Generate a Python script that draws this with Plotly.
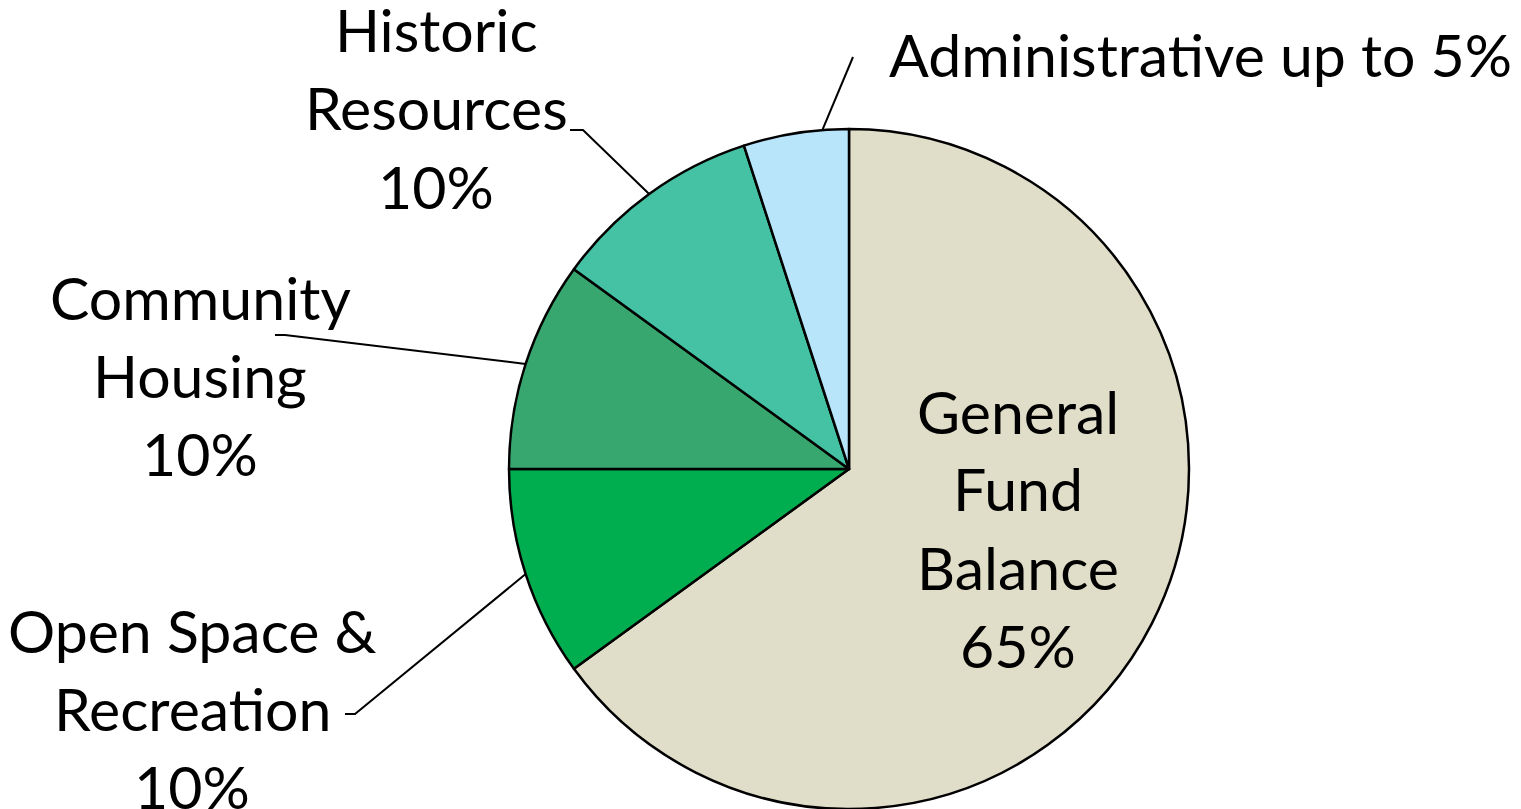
import math
import plotly.graph_objects as go

# ---- data ----
categories = ["General Fund Balance", "Open Space & Recreation", "Community Housing",
              "Historic Resources", "Administrative up to 5%"]
values = [65, 10, 10, 10, 5]
label_lines = [
    ["General", "Fund", "Balance", "65%"],
    ["Open Space &", "Recreation", "10%"],
    ["Community", "Housing", "10%"],
    ["Historic", "Resources", "10%"],
    ["Administrative up to 5%"],
]
colors = ["#E0DDC9", "#00AE4F", "#38A76F", "#45C1A3", "#B9E5FB"]

# ---- layout ----
W, H = 1521, 809
CX, CY, R = 849, 469, 340          # pie centre / radius in px
FONT = "Lato"
FS = 59
LINE_H = 78
# label centre positions (px) and leader elbows (px), None = inside label
label_pos = [(1018, 528), (192, 708), (200, 375), (436, 108), (1200, 55)]
elbows = [None, [(345, 714), (355, 714)], [(275, 335), (285, 335)],
          [(570, 130), (583, 130)], [(853, 57)]]
edge_shift = [0, 0, 0, 0, -4.5]    # degrees the leader meets the rim off the slice middle


def px2paper(x, y):
    return x / W, 1 - y / H


fig = go.Figure(go.Pie(
    labels=categories, values=values, sort=False, direction="clockwise",
    rotation=0, textinfo="none", hoverinfo="label+percent",
    marker=dict(colors=colors, line=dict(color="black", width=2.5)),
    domain=dict(x=[(CX - R) / W, (CX + R) / W], y=[0, 2 * R / H]),
    showlegend=False,
))

annotations = []
shapes = []
total = sum(values)
cum = 0
for i, v in enumerate(values):
    mid = 90 - 360 * (cum + v / 2) / total + edge_shift[i]
    cum += v
    lx, ly = label_pos[i]
    n = len(label_lines[i])
    for k, line in enumerate(label_lines[i]):
        yy = ly + (k - (n - 1) / 2) * LINE_H
        px_, py_ = px2paper(lx, yy)
        annotations.append(dict(x=px_, y=py_, xref="paper", yref="paper", text=line,
                                showarrow=False, xanchor="center", yanchor="middle",
                                font=dict(family=FONT, size=FS, color="black")))
    if elbows[i]:
        ex = CX + R * math.cos(math.radians(mid))
        ey = CY - R * math.sin(math.radians(mid))
        pts = elbows[i] + [(ex, ey)]
        path = "M " + " L ".join(f"{px2paper(x, y)[0]},{px2paper(x, y)[1]}" for x, y in pts)
        shapes.append(dict(type="path", path=path, xref="paper", yref="paper",
                           line=dict(color="black", width=2)))

fig.update_layout(width=W, height=H, margin=dict(l=0, r=0, t=0, b=0),
                  paper_bgcolor="white", plot_bgcolor="white",
                  annotations=annotations, shapes=shapes)
fig.write_html("out.html", config={"displayModeBar": False},
               post_script="document.body.style.margin='0';document.body.style.overflow='hidden';")
